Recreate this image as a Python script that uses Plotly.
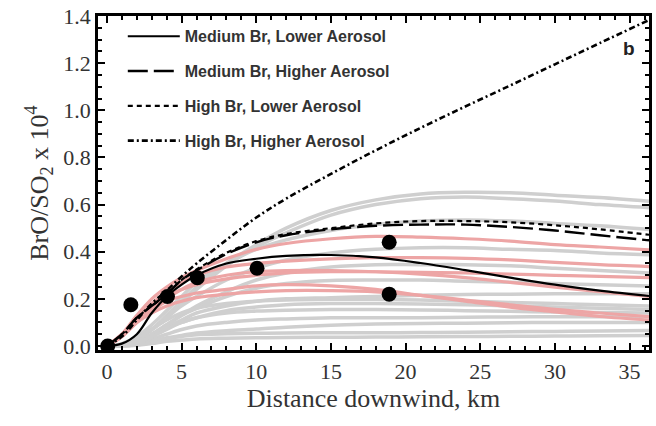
import plotly.graph_objects as go

# sample distances (km)
X = [0, 1, 2, 3, 4, 5, 6, 8, 10, 12, 15, 18, 21, 24, 27, 30, 33, 36.3]

# black model curves
med_low  = [0, 0.01, 0.05, 0.14, 0.21, 0.26, 0.30, 0.35, 0.37, 0.382, 0.386, 0.376, 0.352, 0.322, 0.29, 0.26, 0.235, 0.212]
med_high = [0, 0.05, 0.12, 0.17, 0.22, 0.28, 0.32, 0.39, 0.44, 0.47, 0.495, 0.51, 0.515, 0.515, 0.505, 0.49, 0.47, 0.448]
high_low = [0, 0.05, 0.12, 0.17, 0.22, 0.28, 0.325, 0.395, 0.445, 0.475, 0.50, 0.52, 0.53, 0.53, 0.525, 0.512, 0.495, 0.472]
high_high = [0, 0.04, 0.11, 0.18, 0.235, 0.295, 0.35, 0.45, 0.545, 0.625, 0.73, 0.83, 0.925, 1.016, 1.105, 1.195, 1.285, 1.383]

# grey ensemble curves
grey = [
    [0, 0.005, 0.03, 0.07, 0.13, 0.19, 0.25, 0.35, 0.43, 0.50, 0.575, 0.62, 0.645, 0.652, 0.65, 0.64, 0.63, 0.614],
    [0, 0.005, 0.03, 0.07, 0.12, 0.18, 0.24, 0.34, 0.42, 0.48, 0.555, 0.60, 0.625, 0.632, 0.625, 0.615, 0.60, 0.587],
    [0, 0.01, 0.04, 0.09, 0.15, 0.21, 0.27, 0.35, 0.41, 0.45, 0.49, 0.515, 0.53, 0.535, 0.53, 0.52, 0.51, 0.494],
    [0, 0.005, 0.03, 0.07, 0.12, 0.17, 0.21, 0.28, 0.33, 0.365, 0.395, 0.41, 0.417, 0.417, 0.41, 0.405, 0.395, 0.387],
    [0, 0.005, 0.02, 0.05, 0.09, 0.13, 0.17, 0.23, 0.28, 0.31, 0.335, 0.345, 0.345, 0.345, 0.34, 0.33, 0.32, 0.31],
    [0, 0.005, 0.02, 0.05, 0.09, 0.13, 0.16, 0.21, 0.245, 0.265, 0.278, 0.28, 0.28, 0.275, 0.27, 0.265, 0.26, 0.255],
    [0, 0.005, 0.02, 0.05, 0.08, 0.11, 0.14, 0.17, 0.19, 0.20, 0.205, 0.21, 0.215, 0.218, 0.22, 0.222, 0.222, 0.222],
    [0, 0.005, 0.03, 0.07, 0.11, 0.14, 0.16, 0.18, 0.19, 0.195, 0.198, 0.198, 0.195, 0.19, 0.185, 0.18, 0.175, 0.17],
    [0, 0.003, 0.02, 0.05, 0.08, 0.10, 0.12, 0.14, 0.148, 0.152, 0.155, 0.155, 0.153, 0.15, 0.147, 0.144, 0.142, 0.14],
    [0, 0.002, 0.01, 0.03, 0.05, 0.07, 0.085, 0.10, 0.11, 0.115, 0.12, 0.12, 0.12, 0.122, 0.123, 0.124, 0.124, 0.124],
    [0, 0.001, 0.005, 0.02, 0.035, 0.045, 0.055, 0.065, 0.072, 0.08, 0.088, 0.093, 0.095, 0.097, 0.099, 0.10, 0.10, 0.10],
    [0, 0.001, 0.005, 0.015, 0.03, 0.04, 0.048, 0.052, 0.054, 0.055, 0.056, 0.056, 0.057, 0.058, 0.06, 0.062, 0.064, 0.066],
    [0, 0.0, 0.003, 0.01, 0.02, 0.025, 0.03, 0.033, 0.035, 0.036, 0.037, 0.038, 0.039, 0.04, 0.041, 0.042, 0.043, 0.044],
    [0, 0.003, 0.015, 0.04, 0.07, 0.10, 0.12, 0.15, 0.165, 0.175, 0.18, 0.18, 0.178, 0.175, 0.17, 0.165, 0.16, 0.155],
]

# pink ensemble curves
pink = [
    [0, 0.05, 0.13, 0.20, 0.25, 0.29, 0.32, 0.37, 0.41, 0.435, 0.455, 0.465, 0.462, 0.455, 0.445, 0.43, 0.42, 0.408],
    [0, 0.05, 0.12, 0.18, 0.23, 0.27, 0.30, 0.335, 0.35, 0.36, 0.37, 0.375, 0.375, 0.372, 0.365, 0.355, 0.345, 0.337],
    [0, 0.04, 0.11, 0.16, 0.20, 0.24, 0.27, 0.30, 0.315, 0.32, 0.32, 0.315, 0.305, 0.29, 0.27, 0.25, 0.23, 0.21],
    [0, 0.04, 0.10, 0.15, 0.19, 0.21, 0.225, 0.24, 0.255, 0.26, 0.255, 0.24, 0.215, 0.19, 0.165, 0.145, 0.125, 0.11],
    [0, 0.04, 0.10, 0.14, 0.17, 0.19, 0.205, 0.22, 0.23, 0.235, 0.235, 0.23, 0.215, 0.195, 0.175, 0.155, 0.14, 0.125],
    [0, 0.05, 0.12, 0.17, 0.21, 0.24, 0.26, 0.285, 0.30, 0.31, 0.315, 0.315, 0.312, 0.31, 0.305, 0.30, 0.295, 0.29],
]

# observations
obs_x = [0.05, 1.6, 4.05, 6.05, 10.05, 18.9, 18.9]
obs_y = [0.0, 0.175, 0.21, 0.29, 0.33, 0.44, 0.22]

legend_names = ["Medium Br, Lower Aerosol", "Medium Br, Higher Aerosol",
                "High Br, Lower Aerosol", "High Br, Higher Aerosol"]

SERIF = "Liberation Serif, Times New Roman, serif"
SANS = "Liberation Sans, Arial, sans-serif"

fig = go.Figure()

for g in grey:
    fig.add_trace(go.Scatter(x=X, y=g, mode="lines", line=dict(color="#cfcfcf", width=3.5, shape="spline"),
                             showlegend=False, hoverinfo="skip"))
for p in pink:
    fig.add_trace(go.Scatter(x=X, y=p, mode="lines", line=dict(color="#eda5a5", width=3.2, shape="spline"),
                             showlegend=False, hoverinfo="skip"))

styles = [(med_low, "solid", 2.2), (med_high, "20px,6px", 2.4), (high_low, "5px,4px", 2.2),
          (high_high, "6px,3px,2px,3px", 2.6)]
for i, (ys, dash, w) in enumerate(styles):
    fig.add_trace(go.Scatter(x=X, y=ys, mode="lines", name=legend_names[i], legendgroup=f"g{i}",
                             line=dict(color="black", width=w, dash=dash, shape="spline")))

fig.add_trace(go.Scatter(x=obs_x, y=obs_y, mode="markers", marker=dict(color="black", size=15),
                         showlegend=False))

axis_common = dict(showline=True, linecolor="black", linewidth=2.5, mirror="ticks", ticks="inside",
                   tickcolor="black", tickwidth=2, ticklen=7, showgrid=False, zeroline=False,
                   tickfont=dict(family=SERIF, size=22, color="#333"))

fig.update_xaxes(range=[-0.6, 36.3], dtick=5, tick0=0,
                 minor=dict(dtick=1, ticks="inside", ticklen=4, tickcolor="black", tickwidth=1.5),
                 title=dict(text="Distance downwind, km", standoff=4,
                            font=dict(family=SERIF, size=26, color="#333")),
                 **axis_common)
fig.update_yaxes(range=[-0.017, 1.4], dtick=0.2, tick0=0, tickformat=".1f",
                 minor=dict(dtick=0.05, ticks="inside", ticklen=4, tickcolor="black", tickwidth=1.5),
                 title=dict(text="BrO/SO<sub>2</sub> x 10<sup>4</sup>", standoff=8,
                            font=dict(family=SERIF, size=26, color="#333")),
                 **axis_common)

fig.add_annotation(x=0.978, y=0.94, xref="paper", yref="paper", text="<b>b</b>", showarrow=False,
                   font=dict(family=SANS, size=19, color="#222"))

fig.update_layout(
    width=656, height=426,
    margin=dict(l=98, r=4, t=16, b=76),
    paper_bgcolor="white", plot_bgcolor="white",
    legend=dict(x=0.045, y=0.99, xanchor="left", yanchor="top", bgcolor="rgba(0,0,0,0)",
                traceorder="grouped", tracegroupgap=11, itemwidth=52,
                font=dict(family=SANS, size=16, color="#333", weight="bold")),
)

fig.write_html("out.html")
